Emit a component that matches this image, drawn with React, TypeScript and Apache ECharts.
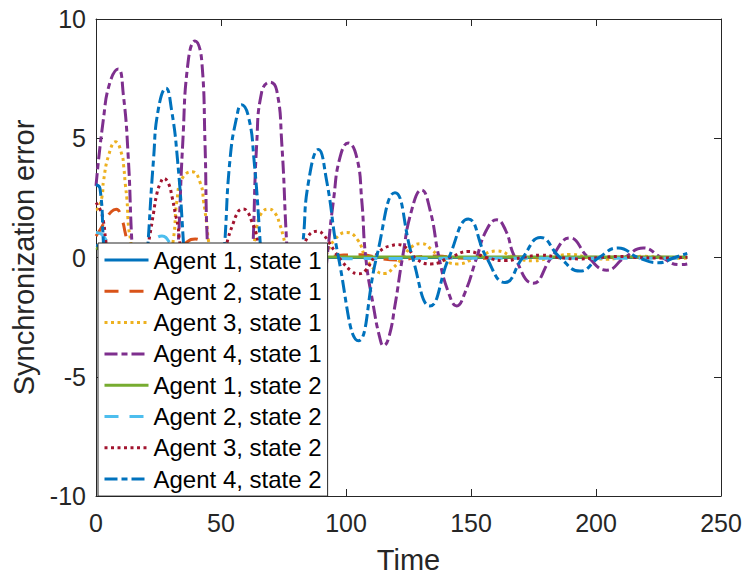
import React, { useEffect, useRef } from "react";
import * as echarts from "echarts";

type Pt = [number, number];

const seriesNames: string[] = [
  "Agent 1, state 1",
  "Agent 2, state 1",
  "Agent 3, state 1",
  "Agent 4, state 1",
  "Agent 1, state 2",
  "Agent 2, state 2",
  "Agent 3, state 2",
  "Agent 4, state 2",
];

const xTicks = { min: 0, max: 250, interval: 50 };
const yTicks = { min: -10, max: 10, interval: 5 };

const agent1State1: Pt[] = [
  [0, 0.5], [5.1, 0.3], [10.1, -0.3], [20.2, 0.2], [30.3, -0.1], [50.6, 0.05], [80.9, 0], [236.5, 0],
];

const agent2State1: Pt[] = [
  [0, 0.9], [1.7, 1.17], [4, 1.6], [6.1, 1.92], [8.1, 2.02], [10.4, 1.58], [11.7, 1.03], [12.6, 0.6],
  [15.2, -0.4], [21.2, -1.1], [27.3, -0.6], [33.4, 0.3], [36.4, 0.65], [39.7, 0.78], [42.5, 0.6],
  [46.5, 0], [53.6, -0.6], [60.7, -0.2], [68.8, 0.3], [75.8, 0.1], [83.9, -0.2], [91, -0.05],
  [99.1, 0.1], [106.2, 0.12], [114.3, -0.05], [121.3, -0.1], [129.4, 0.03], [136.5, 0.06],
  [144.6, -0.02], [151.7, -0.04], [166.8, 0.02], [182, -0.01], [202.2, 0.01], [236.5, 0],
];

const agent3State1: Pt[] = [
  [0, 2.0], [0.9, 2.07], [2.4, 2.55], [3, 3.2], [5.1, 4.3], [7.8, 4.85], [10.4, 4.3], [11.1, 3.8],
  [11.7, 3.1], [12.4, 2.4], [13, 1.3], [13.8, 0.75], [16.2, -1.2], [22.2, -3.0], [27.3, -1.5],
  [31, 0.8], [32.4, 2.4], [34.4, 3.3], [38.4, 3.6], [41.8, 3.1], [43.1, 2.3], [44.4, 1.3], [45, 0.7],
  [48.5, -1.2], [53.6, -2.3], [58.6, -1.3], [63.6, 0.8], [64.3, 1.3], [66.2, 1.86], [69, 2.03],
  [71.6, 1.86], [73.6, 1.37], [74.9, 0.89], [75.8, 0.5], [78.9, -0.6], [84.9, -1.1], [91.5, 0],
  [95.5, 0.75], [100.3, 1.05], [104.6, 0.75], [107.9, 0], [112.2, -0.57], [115.6, -0.67],
  [118.9, -0.43], [122.6, 0], [126.3, 0.45], [130.2, 0.58], [134.3, 0.33], [137.6, 0],
  [144.6, -0.27], [152.3, 0], [160.3, 0.27], [167.6, 0], [174.9, -0.14], [182.2, 0], [189.6, 0.13],
  [196.9, 0], [204.3, -0.07], [211.5, 0], [218.9, 0.05], [226.2, 0], [233.6, -0.03], [236.5, -0.02],
];

const agent4State1: Pt[] = [
  [0, 3.0], [2.9, 5.75], [5.6, 7.35], [8.9, 7.9], [10.9, 6.86], [12.9, 4.2], [14.3, 0.75],
  [17.2, -4.5], [20.2, -7.8], [24.3, -8.6], [28.3, -6.5], [31.3, -2.5], [33, 0.75], [34.7, 4.8],
  [36.9, 8.25], [39.6, 9.08], [42.3, 8.25], [43.6, 4.8], [44.5, 0.75], [47.5, -5], [50.6, -8.3],
  [54.6, -9.0], [58.6, -6.5], [61.7, -2.5], [62.9, 0.75], [64.3, 4.8], [66.2, 6.9], [69.6, 7.35],
  [72.3, 7.0], [74.3, 4.8], [76.2, 0.75], [78.9, -3.8], [84.9, -6.0], [90, -2.5], [92.9, 0.47],
  [95, 2.4], [97.6, 4.2], [100.9, 4.8], [104.3, 4.2], [106.3, 2.4], [107.9, 0], [110.9, -2.0],
  [113.6, -3.4], [115, -3.7], [117, -3.4], [119.6, -2.0], [122.6, 0], [126.3, 2.0], [130.2, 2.83],
  [133.6, 2.0], [137.2, 0], [141, -1.47], [144.3, -2.03], [147.6, -1.47], [152.3, 0], [156.2, 1.15],
  [160.3, 1.58], [163.8, 1.15], [167.6, 0], [174.9, -1.08], [182.2, 0], [189.6, 0.82], [196.9, 0],
  [204.3, -0.53], [211.5, 0], [218.9, 0.4], [226.2, 0], [233.6, -0.3], [236.5, -0.27],
];

const agent1State2: Pt[] = [
  [0, 0.4], [6.1, 0.1], [12.1, -0.3], [25.3, 0.15], [40.4, -0.05], [60.7, 0.02], [91, 0.02], [236.5, 0.02],
];

const agent2State2: Pt[] = [
  [0, 1.05], [2.4, 0.96], [5.1, 0.5], [10.1, -0.5], [16.2, -0.3], [22.2, 0.6], [26.4, 0.9],
  [30.3, 0.5], [36.4, -0.3], [45.5, -0.3], [55.6, 0.2], [62.7, 0.1], [70.8, -0.1], [80.9, 0],
  [91, -0.02], [101.1, -0.05], [116.3, -0.04], [131.4, -0.04], [151.7, -0.03], [236.5, -0.03],
];

const agent3State2: Pt[] = [
  [0, 2.3], [1.7, 2.0], [3, 1.5], [3.8, 0.8], [6.1, -1.0], [11.1, -2.6], [16.2, -1.5], [20.2, 0.2],
  [21.7, 1.03], [23, 1.86], [24.4, 2.7], [25.7, 3.1], [27.1, 3.32], [29, 3.1], [30.4, 2.55],
  [31.7, 1.86], [32.8, 1.3], [33.3, 0.8], [36.4, -1.2], [42.5, -2.2], [48.5, -1.0], [52.9, 0.82],
  [54.9, 1.44], [56.2, 1.79], [57.6, 2.0], [58.9, 2.03], [60.9, 1.86], [62.3, 1.51], [63.6, 1.17],
  [64.3, 0.89], [66.7, -0.2], [73.8, -1.2], [80.9, -0.2], [84.9, 0.89], [89, 1.1], [90.9, 0.96],
  [92.9, 0.68], [95.5, 0.26], [98.3, -0.15], [102.2, -0.57], [105, -0.68], [107.6, -0.57],
  [111.6, 0.05], [114.9, 0.37], [118.3, 0.5], [120.8, 0.54], [125, 0.33], [128.3, -0.08],
  [134, -0.27], [141.6, 0], [148.9, 0.25], [156.2, 0], [163.6, -0.13], [170.7, 0], [178, 0.1],
  [185.6, 0], [193.6, -0.06], [201.2, 0], [208.9, 0.04], [216.9, 0], [224.5, -0.02], [236.5, 0.01],
];

const agent4State2: Pt[] = [
  [0, 3.05], [1.6, 2.9], [2.9, 0.75], [5.1, -3.5], [8.1, -6.5], [12.1, -7.5], [16.2, -5.5],
  [19.2, -2], [20.9, 0.75], [23, 4.1], [24.9, 6.2], [28, 7.1], [30.2, 6.2], [32.6, 4.1], [34.9, 0.75],
  [37.4, -4], [43.5, -8.0], [48.5, -4.5], [51.6, 0.75], [53.6, 4.1], [56.3, 5.9], [58.2, 6.4],
  [61, 5.9], [63.2, 4.1], [65.6, 0.75], [67.7, -3], [73.8, -6.2], [78.9, -3.5], [82.9, 0.75],
  [84.9, 3.1], [89, 4.53], [92.2, 3.25], [97, 0], [105, -3.49], [112.2, 0], [119.6, 2.72],
  [126.6, 0], [133.6, -2.03], [141.2, 0], [148.9, 1.61], [156.2, 0], [163.6, -1.05], [170.7, 0],
  [177.8, 0.84], [185.6, 0], [193.6, -0.57], [201.2, 0], [208.9, 0.4], [216.9, 0], [224.9, -0.22],
  [231.5, 0], [236.5, 0.17],
];

const seriesData: Pt[][] = [
  agent1State1, agent2State1, agent3State1, agent4State1,
  agent1State2, agent2State2, agent3State2, agent4State2,
];

const colors = ["#0072BD", "#D95319", "#EDB120", "#7E2F8E", "#77AC30", "#4DBEEE", "#A2142F", "#0072BD"];
const dashDot = [13, 4, 6, 4];
const dashed = [14, 11];
const dotted = [3, 3.5];
const lineTypes: any[] = ["solid", dashed, dotted, dashDot, "solid", dashed, dotted, dashDot];

const FONT = "'Liberation Sans', Arial, Helvetica, sans-serif";
const AXIS = "#262626";

export default function App() {
  const ref = useRef<HTMLDivElement>(null);
  useEffect(() => {
    if (!ref.current) return;
    const chart = echarts.init(ref.current, null, { renderer: "svg" });
    const axisCommon = {
      axisLine: { show: true, onZero: false, lineStyle: { color: AXIS, width: 1 } },
      axisTick: { show: true, inside: true, length: 7, lineStyle: { color: AXIS, width: 1 } },
      splitLine: { show: false },
    };
    chart.setOption({
      animation: false,
      backgroundColor: "#ffffff",
      textStyle: { fontFamily: FONT },
      grid: { left: 96, right: 25, top: 19, bottom: 83 },
      xAxis: [
        {
          type: "value",
          ...xTicks,
          position: "bottom",
          name: "Time",
          nameLocation: "middle",
          nameGap: 49,
          nameTextStyle: { fontSize: 29, color: AXIS, fontFamily: FONT },
          axisLabel: { fontSize: 25, color: AXIS, margin: 14, fontFamily: FONT },
          ...axisCommon,
        },
        {
          type: "value",
          ...xTicks,
          position: "top",
          axisLabel: { show: false },
          ...axisCommon,
        },
      ],
      yAxis: [
        {
          type: "value",
          ...yTicks,
          position: "left",
          name: "Synchronization error",
          nameLocation: "middle",
          nameGap: 55,
          nameTextStyle: { fontSize: 29, color: AXIS, fontFamily: FONT },
          axisLabel: { fontSize: 25, color: AXIS, margin: 10, fontFamily: FONT },
          ...axisCommon,
        },
        {
          type: "value",
          ...yTicks,
          position: "right",
          axisLabel: { show: false },
          ...axisCommon,
        },
      ],
      legend: {
        orient: "vertical",
        left: 98,
        top: 243,
        padding: [5, 6, 5, 5],
        itemWidth: 44,
        itemHeight: 14,
        itemGap: 7.3,
        backgroundColor: "#ffffff",
        borderColor: AXIS,
        borderWidth: 1,
        selectedMode: false,
        textStyle: { fontSize: 24, lineHeight: 24, color: "#000", fontFamily: FONT },
        itemStyle: { opacity: 0 },
        lineStyle: { width: 3 },
        data: seriesNames,
      },
      series: seriesNames.map((name, i) => ({
        name,
        type: "line",
        xAxisIndex: 0,
        yAxisIndex: 0,
        data: seriesData[i],
        symbol: "none",
        smooth: 0.5,
        clip: true,
        silent: true,
        lineStyle: { color: colors[i], width: 3, type: lineTypes[i] },
        itemStyle: { color: colors[i] },
      })),
    });
    return () => chart.dispose();
  }, []);
  return (
    <div
      ref={ref}
      style={{ position: "fixed", left: 0, top: 0, width: 746, height: 579, background: "#fff" }}
    />
  );
}
